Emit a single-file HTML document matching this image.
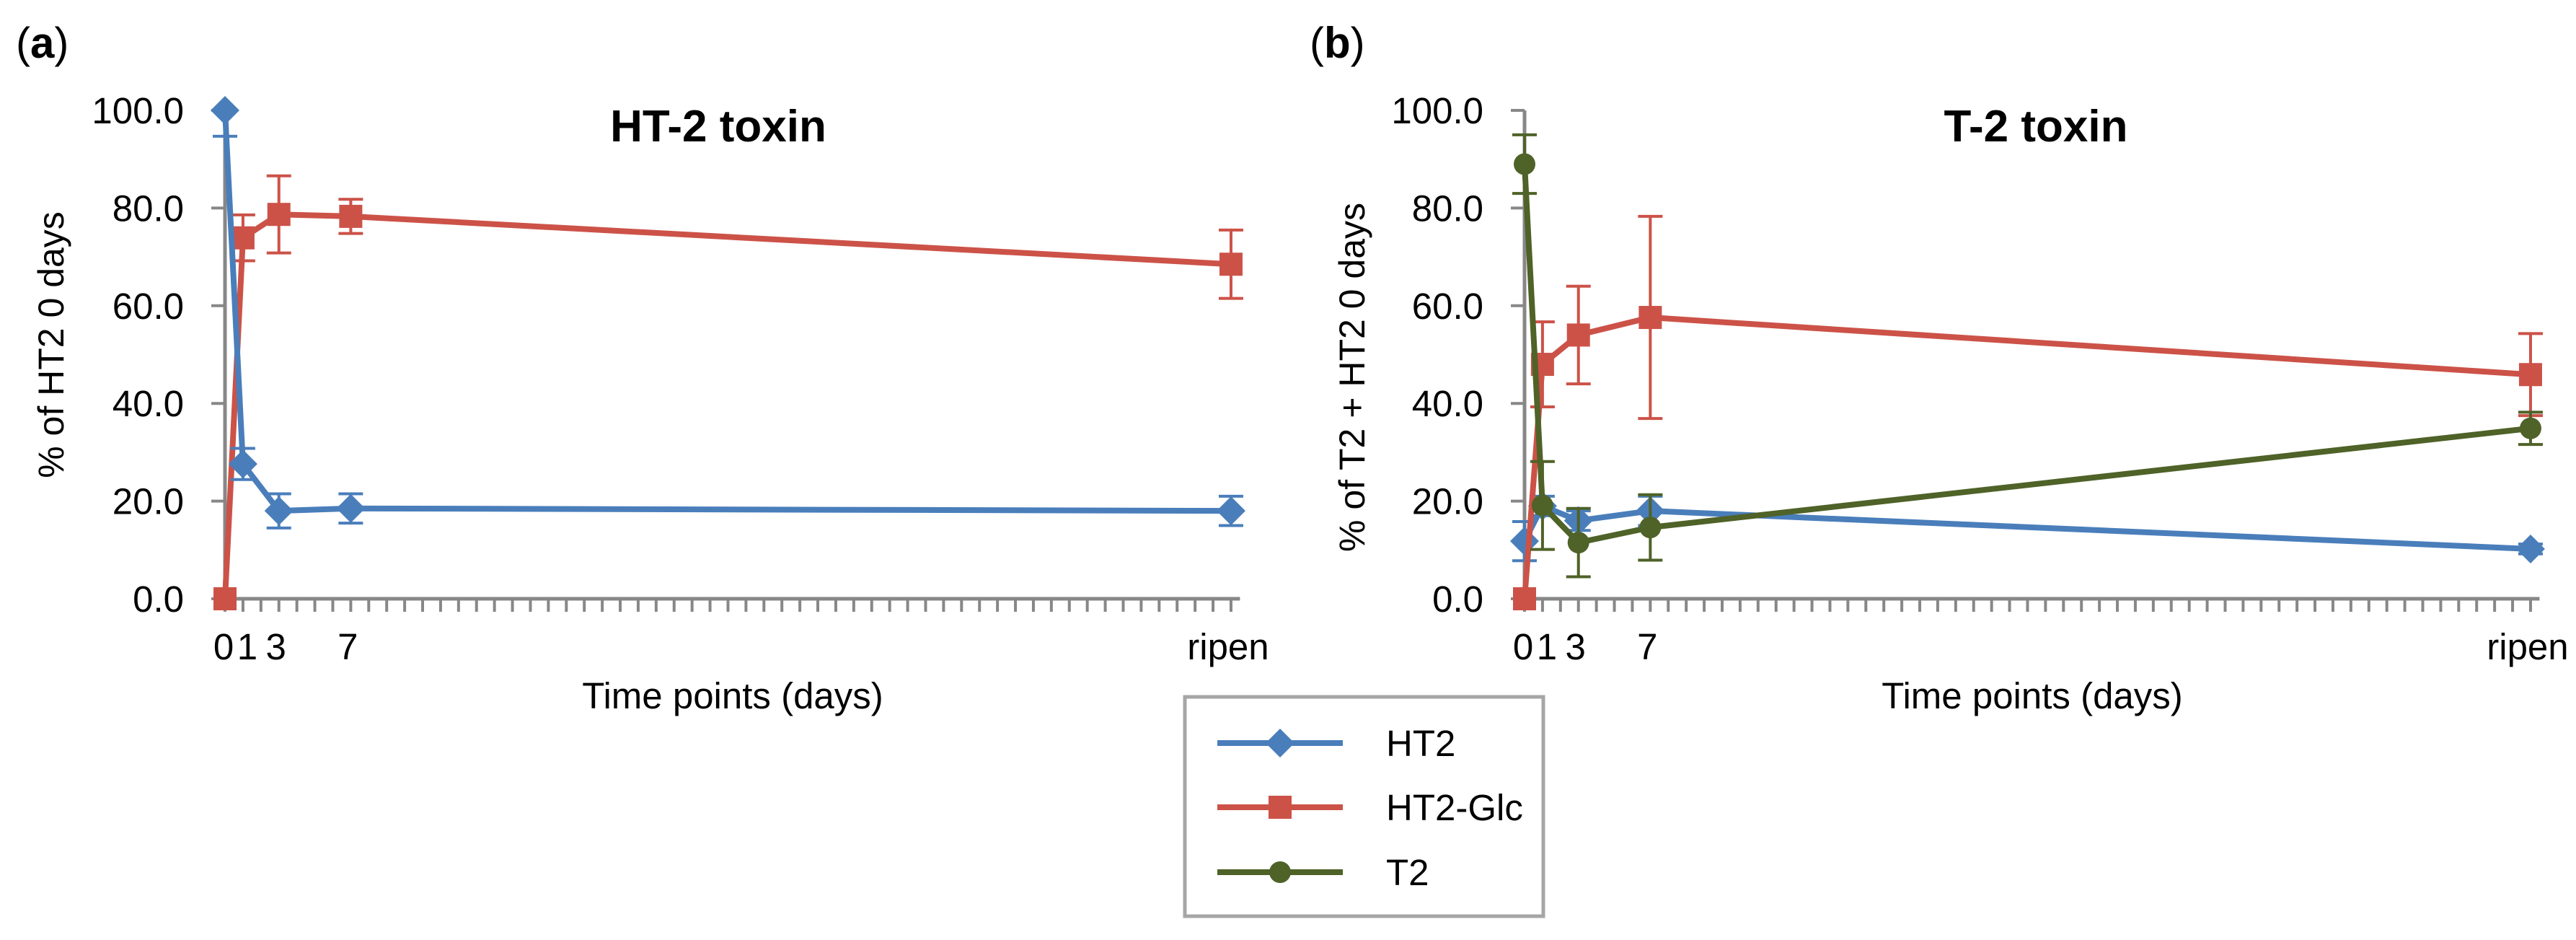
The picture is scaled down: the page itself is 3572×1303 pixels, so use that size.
<!DOCTYPE html>
<html><head><meta charset="utf-8"><style>
html,body{margin:0;padding:0;background:#fff;}
svg{display:block;font-family:"Liberation Sans",sans-serif;}
</style></head><body>
<svg id="chart" width="3572" height="1303" viewBox="0 0 3572 1303" xmlns="http://www.w3.org/2000/svg">
<g id="pa"></g>
<g id="pb"></g>
<g id="legend"></g>
</svg>
<script>
// ---- data ----
const timeIdx = [0, 1, 3, 7, 56];
const xTickLabels = ["0", "1", "3", "7", "ripen"];
const yTicks = [0, 20, 40, 60, 80, 100];
const yTickLabels = ["0.0", "20.0", "40.0", "60.0", "80.0", "100.0"];
// panel a (HT-2 toxin)
const aHT2 = [100, 27.6, 18, 18.5, 18];
const aHT2Err = [5.3, 3.2, 3.5, 3, 3];
const aGlc = [0, 73.9, 78.7, 78.3, 68.5];
const aGlcErr = [0, 4.7, 7.9, 3.5, 7];
// panel b (T-2 toxin)
const bHT2 = [11.8, 19, 16, 18, 10.2];
const bHT2Err = [4, 2, 2, 3, 1];
const bGlc = [0, 48, 54, 57.6, 45.9];
const bGlcErr = [0, 8.7, 10, 20.7, 8.4];
const bT2 = [89, 19.1, 11.5, 14.6, 34.9];
const bT2Err = [6, 9, 7, 6.7, 3.3];

const NS = "http://www.w3.org/2000/svg";
const C = {blue:"#4a7ebb", red:"#cc5248", green:"#4f6228", axis:"#878787"};
function mk(parent, tag, attrs, text){
  const e = document.createElementNS(NS, tag);
  for (const k in attrs) e.setAttribute(k, attrs[k]);
  if (text !== undefined) e.textContent = text;
  parent.appendChild(e);
  return e;
}
function marker(g, kind, x, y, color){
  let m;
  if (kind === "diamond") m = mk(g, "polygon", {points:`${x},${y-20} ${x+20},${y} ${x},${y+20} ${x-20},${y}`, fill:color});
  else if (kind === "square") m = mk(g, "rect", {x:x-16, y:y-16, width:32, height:32, fill:color});
  else m = mk(g, "circle", {cx:x, cy:y, r:15, fill:color});
  return m;
}
function panel(gid, x0, title, titleX, ytitle, ytitleX, ytitleY, series, label, labelX){
  const g = document.getElementById(gid);
  const y0 = 830, yTop = 153, step = 24.91;
  const X = d => x0 + d * step;
  const Y = v => y0 - (v / 100) * (y0 - yTop);
  const ya = mk(g, "line", {x1:x0, y1:yTop, x2:x0, y2:y0, stroke:C.axis, "stroke-width":5});
  
  
  yTicks.forEach((v, i) => {
    const t = mk(g, "line", {x1:x0-19, y1:Y(v), x2:x0, y2:Y(v), stroke:C.axis, "stroke-width":4});
    
    
    const l = mk(g, "text", {x:x0-57, y:Y(v)+18, "text-anchor":"end", "font-size":51, fill:"#000"}, yTickLabels[i]);
    
    
  });
  const xa = mk(g, "line", {x1:x0-3, y1:y0, x2:X(56.5), y2:y0, stroke:C.axis, "stroke-width":5});
  
  
  for (let d = 0; d <= 56; d++){
    const t = mk(g, "line", {x1:X(d), y1:y0, x2:X(d), y2:y0+18, stroke:C.axis, "stroke-width":4});
    
    
  }
  timeIdx.forEach((d, i) => {
    let lx = X(d) - 4;
    if (i === 0) lx = X(d) - 2;
    if (i === 1) lx = X(d) + 6;
    const l = mk(g, "text", {x:lx, y:914, "text-anchor":"middle", "font-size":51, fill:"#000"}, xTickLabels[i]);
    
    
  });
  const xt = mk(g, "text", {x:x0 + 704, y:982, "text-anchor":"middle", "font-size":51, fill:"#000"}, "Time points (days)");
  
  
  const yt = mk(g, "text", {x:ytitleX, y:ytitleY, "text-anchor":"middle", "font-size":50, fill:"#000", transform:`rotate(-90 ${ytitleX} ${ytitleY})`}, ytitle);
  
  
  const tt = mk(g, "text", {x:titleX, y:196, "text-anchor":"middle", "font-size":62, "font-weight":"bold", fill:"#000"}, title);
  
  
  const pl = mk(g, "text", {x:labelX, y:80, "font-size":60, fill:"#000"});
  
  
  mk(pl, "tspan", {}, "(");
  mk(pl, "tspan", {"font-weight":"bold"}, label);
  mk(pl, "tspan", {}, ")");
  series.forEach(s => {
    const sg = mk(g, "g", {});
    
    
    s.vals.forEach((v, i) => {
      const e = s.err[i];
      if (!e) return;
      const x = X(timeIdx[i]);
      const hi = Math.min(100, v + e), lo = Math.max(0, v - e);
      let d = `M${x},${Y(hi)}V${Y(lo)}`;
      if (v + e <= 100) d += `M${x-17},${Y(hi)}H${x+17}`;
      if (v - e >= 0) d += `M${x-17},${Y(lo)}H${x+17}`;
      const eb = mk(sg, "path", {d:d, stroke:s.color, "stroke-width":4, fill:"none"});
      
      
    });
    const pts = s.vals.map((v, i) => `${X(timeIdx[i])},${Y(v)}`).join(" ");
    const ln = mk(sg, "polyline", {points:pts, fill:"none", stroke:s.color, "stroke-width":8, "stroke-linejoin":"round"});
    
    
    s.vals.forEach((v, i) => {
      const m = marker(sg, s.kind, X(timeIdx[i]), Y(v), s.color);
      
      
    });
  });
}
panel("pa", 312, "HT-2 toxin", 996, "% of HT2 0 days", 88, 478, [
  {name:"ht2-glc", vals:aGlc, err:aGlcErr, color:C.red, kind:"square"},
  {name:"ht2", vals:aHT2, err:aHT2Err, color:C.blue, kind:"diamond"}
], "a", 22);
panel("pb", 2114, "T-2 toxin", 2823, "% of T2 + HT2 0 days", 1892, 523, [
  {name:"ht2", vals:bHT2, err:bHT2Err, color:C.blue, kind:"diamond"},
  {name:"ht2-glc", vals:bGlc, err:bGlcErr, color:C.red, kind:"square"},
  {name:"t2", vals:bT2, err:bT2Err, color:C.green, kind:"circle"}
], "b", 1816);

const lg = document.getElementById("legend");
const box = mk(lg, "rect", {x:1643, y:966, width:497, height:304, fill:"#fff", stroke:"#a6a6a6", "stroke-width":5});


const legNames = ["HT2", "HT2-Glc", "T2"];
const legColors = [C.blue, C.red, C.green];
const legKinds = ["diamond", "square", "circle"];
const legY = [1030, 1119, 1209];
legNames.forEach((n, i) => {
  const eg = mk(lg, "g", {});
  
  
  mk(eg, "line", {x1:1688, y1:legY[i], x2:1862, y2:legY[i], stroke:legColors[i], "stroke-width":8});
  marker(eg, legKinds[i], 1775, legY[i], legColors[i]);
  mk(eg, "text", {x:1922, y:legY[i]+18, "font-size":51, fill:"#000"}, n);
});
</script>
</body></html>
